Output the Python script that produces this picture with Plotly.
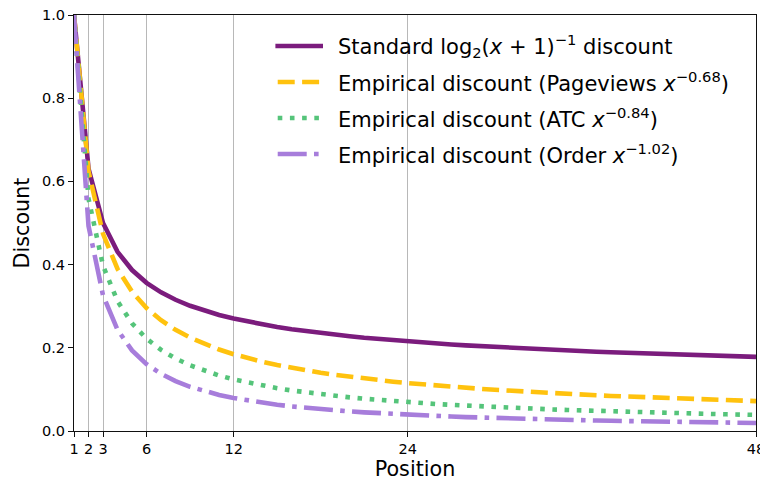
import plotly.graph_objects as go

positions = list(range(1, 49))

standard = [1.0000, 0.6309, 0.5000, 0.4307, 0.3869, 0.3562, 0.3333, 0.3155, 0.3010, 0.2891,
            0.2789, 0.2702, 0.2626, 0.2560, 0.2500, 0.2447, 0.2398, 0.2354, 0.2314, 0.2277,
            0.2242, 0.2211, 0.2181, 0.2153, 0.2127, 0.2103, 0.2080, 0.2058, 0.2038, 0.2018,
            0.2000, 0.1982, 0.1966, 0.1950, 0.1934, 0.1920, 0.1906, 0.1892, 0.1879, 0.1867,
            0.1855, 0.1843, 0.1832, 0.1821, 0.1810, 0.1800, 0.1791, 0.1781]

pageviews = [1.0000, 0.6242, 0.4738, 0.3896, 0.3347, 0.2957, 0.2663, 0.2432, 0.2245, 0.2089,
             0.1958, 0.1846, 0.1748, 0.1662, 0.1586, 0.1518, 0.1456, 0.1401, 0.1350, 0.1304,
             0.1262, 0.1222, 0.1186, 0.1152, 0.1120, 0.1091, 0.1063, 0.1037, 0.1013, 0.0990,
             0.0968, 0.0947, 0.0928, 0.0909, 0.0891, 0.0874, 0.0858, 0.0843, 0.0828, 0.0814,
             0.0800, 0.0787, 0.0775, 0.0763, 0.0751, 0.0740, 0.0729, 0.0719]

atc = [1.0000, 0.5586, 0.3974, 0.3121, 0.2587, 0.2220, 0.1950, 0.1743, 0.1579, 0.1445,
       0.1334, 0.1240, 0.1160, 0.1090, 0.1028, 0.0974, 0.0926, 0.0882, 0.0843, 0.0808,
       0.0775, 0.0745, 0.0718, 0.0693, 0.0670, 0.0648, 0.0628, 0.0609, 0.0591, 0.0574,
       0.0559, 0.0544, 0.0530, 0.0517, 0.0505, 0.0493, 0.0482, 0.0471, 0.0461, 0.0451,
       0.0442, 0.0433, 0.0425, 0.0416, 0.0409, 0.0401, 0.0394, 0.0387]

order = [1.0000, 0.4931, 0.3261, 0.2432, 0.1937, 0.1608, 0.1374, 0.1199, 0.1063, 0.0955,
         0.0867, 0.0793, 0.0731, 0.0678, 0.0632, 0.0591, 0.0556, 0.0524, 0.0496, 0.0471,
         0.0448, 0.0427, 0.0408, 0.0391, 0.0375, 0.0360, 0.0347, 0.0334, 0.0322, 0.0311,
         0.0301, 0.0292, 0.0283, 0.0274, 0.0266, 0.0259, 0.0251, 0.0245, 0.0238, 0.0232,
         0.0226, 0.0221, 0.0216, 0.0211, 0.0206, 0.0201, 0.0197, 0.0193]

x_ticks = [1, 2, 3, 6, 12, 24, 48]
y_ticks = [0.0, 0.2, 0.4, 0.6, 0.8, 1.0]

labels = [
    "Standard log<sub>2</sub>(<i>x</i> + 1)<sup>−1</sup> discount",
    "Empirical discount (Pageviews <i>x</i><sup>−0.68</sup>)",
    "Empirical discount (ATC <i>x</i><sup>−0.84</sup>)",
    "Empirical discount (Order <i>x</i><sup>−1.02</sup>)",
]
values = [standard, pageviews, atc, order]
colors = ["#7b1c7d", "#ffc20e", "#55c47a", "#a77ddb"]
dashes = ["solid", "17px,7.4px", "4.6px,7.6px", "29px,7.3px,4.6px,7.3px"]

LW = 4.6
font_family = "DejaVu Sans"
TICK_SIZE = 14.5

fig = go.Figure()
for name, vals, color, dash in zip(labels, values, colors, dashes):
    fig.add_trace(go.Scatter(
        x=positions, y=vals, mode="lines", name=name,
        line=dict(color=color, width=LW, dash=dash),
        showlegend=False,
    ))

# Manual legend (frameless, like the reference)
legend_rows = [0.9255, 0.8389, 0.7524, 0.6659]
shapes = []
annotations = []
for i, (name, color, dash) in enumerate(zip(labels, colors, dashes)):
    y = legend_rows[i]
    x0, x1 = (0.2953, 0.3651) if dash == "solid" else (0.2987, 0.3617)
    shapes.append(dict(type="line", xref="paper", yref="paper",
                       x0=x0, x1=x1, y0=y, y1=y,
                       line=dict(color=color, width=LW, dash=dash)))
    annotations.append(dict(xref="paper", yref="paper", x=0.3843, y=y,
                            xanchor="left", yanchor="middle", showarrow=False,
                            text=name, font=dict(size=21, family=font_family, color="black")))

# The page body has an 8px default margin, so the figure is sized to fit
# inside the 768x482 window.
fig.update_layout(
    width=760, height=474,
    margin=dict(l=66, r=12, t=7, b=51),
    paper_bgcolor="white", plot_bgcolor="white",
    font=dict(family=font_family, size=TICK_SIZE, color="black"),
    showlegend=False,
    shapes=shapes,
    annotations=annotations,
    xaxis=dict(
        range=[1, 48], tickmode="array", tickvals=x_ticks,
        ticktext=[str(v) for v in x_ticks],
        showgrid=True, gridcolor="#b8b8b8", gridwidth=1,
        showline=True, linecolor="#111", linewidth=1.1, mirror=True,
        ticks="outside", ticklen=5, tickcolor="#111", tickwidth=1.1,
        zeroline=False, automargin=False, ticklabeloverflow="allow",
        title=dict(text="Position", font=dict(size=20.7), standoff=4),
        tickfont=dict(size=TICK_SIZE),
    ),
    yaxis=dict(
        range=[0, 1], tickmode="array", tickvals=y_ticks,
        ticktext=[f"{v:.1f}" for v in y_ticks],
        showgrid=False,
        showline=True, linecolor="#111", linewidth=1.1, mirror=True,
        ticks="outside", ticklen=5, tickcolor="#111", tickwidth=1.1,
        zeroline=False, automargin=False, ticklabeloverflow="allow",
        title=dict(text="Discount", font=dict(size=20.7), standoff=6),
        tickfont=dict(size=TICK_SIZE),
    ),
)

fig.write_html("out.html")
